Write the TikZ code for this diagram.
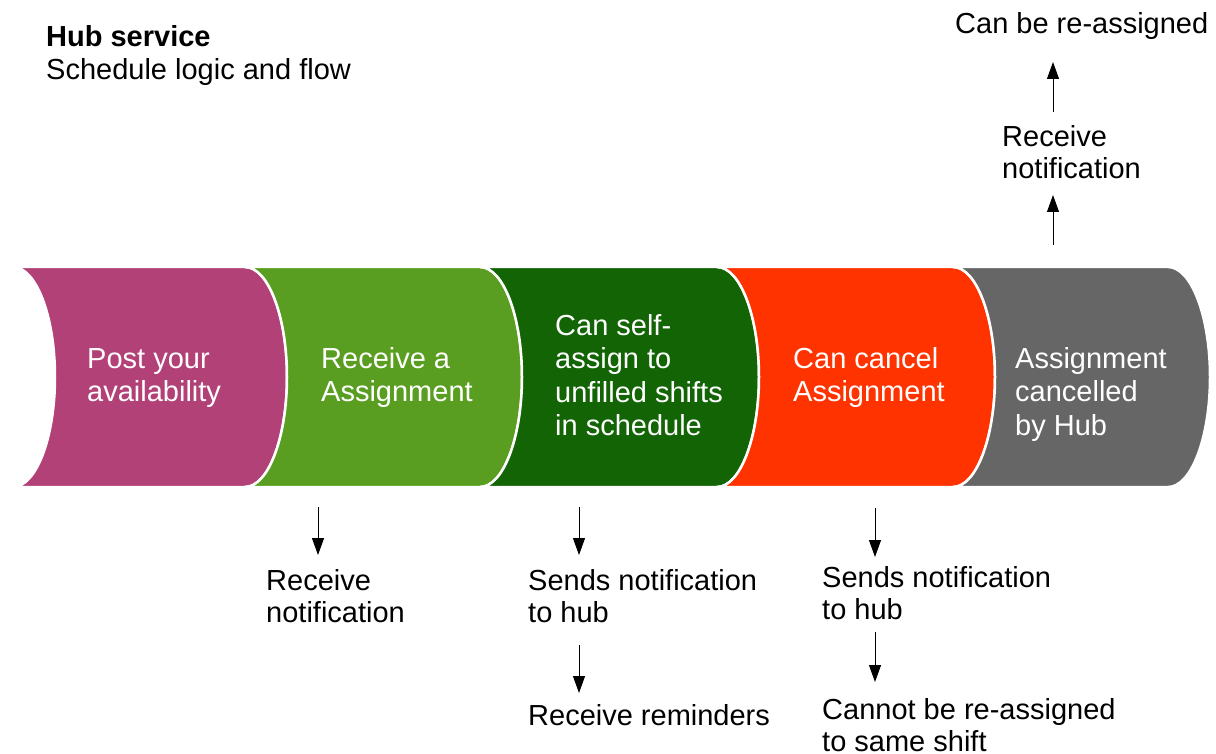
\documentclass[tikz,border=0pt]{standalone}
\usepackage{fontspec}
\setmainfont{Liberation Sans}
\usetikzlibrary{arrows.meta}
\definecolor{cmag}{RGB}{178,65,120}
\definecolor{cgreen}{RGB}{89,158,32}
\definecolor{cdgreen}{RGB}{18,100,5}
\definecolor{cred}{RGB}{255,51,0}
\definecolor{cgrey}{RGB}{102,102,102}
\tikzset{
  seg/.style={draw=white, line width=2.5pt},
  intext/.style={anchor=base west, inner sep=0pt, text=white, font=\fontsize{29}{33.5}\selectfont, align=left},
  lbl/.style={anchor=base west, inner sep=0pt, text=black, font=\fontsize{29}{32}\selectfont, align=left},
  flow/.style={-{Triangle[length=17pt,width=12pt]}, line width=1pt, black}
}
\newcommand{\segpath}[3]{% x0, x1, color
  \path[seg, fill=#3] (#1,267) -- (#2,267)
    arc[start angle=-90, end angle=90, x radius=42, y radius=110]
    -- (#1,487)
    arc[start angle=90, end angle=-90, x radius=42, y radius=110] -- cycle;}
\begin{document}
\begin{tikzpicture}[x=1pt,y=-1pt]
\useasboundingbox (0,0) rectangle (1216,754);
% segments
\segpath{13}{245}{cmag}
\segpath{245}{480}{cgreen}
\segpath{480}{717}{cdgreen}
\segpath{717}{953}{cred}
\segpath{953}{1168}{cgrey}
% segment texts (anchor is baseline of last line)
\node[intext] (s1) at (87,401.5) {Post your\\availability};
\node[intext] (s2) at (321,401.5) {Receive a\\Assignment};
\node[intext] (s3) at (555,435.5) {Can self-\\assign to\\unfilled shifts\\in schedule};
\node[intext] (s4) at (793,401.5) {Can cancel\\Assignment};
\node[intext] (s5) at (1015,435) {Assignment\\cancelled\\by Hub};
% title
\node[lbl, font=\fontsize{29}{33}\selectfont\bfseries] (t1) at (46,47) {Hub service};
\node[lbl] (t2) at (46,80) {Schedule logic and flow};
% top right
\node[lbl] (r2) at (955,34) {Can be re-assigned};
\node[lbl] (r1) at (1002,179) {Receive\\notification};
\coordinate (u1s) at (1053,245);
\coordinate (u1e) at (1053,195);
\coordinate (u2s) at (1053,112);
\coordinate (u2e) at (1053,62);
\draw[flow] (u1s) -- (u1e);
\draw[flow] (u2s) -- (u2e);
% below 2
\node[lbl] (b1) at (266,622) {Receive\\notification};
\coordinate (d1s) at (318,507);
\coordinate (d1e) at (318,555);
\draw[flow] (d1s) -- (d1e);
% below 3
\node[lbl] (b2) at (528,622) {Sends notification\\to hub};
\node[lbl] (b3) at (528,725) {Receive reminders};
\coordinate (d2s) at (579,507);
\coordinate (d2e) at (579,555);
\coordinate (d3s) at (579,645);
\coordinate (d3e) at (579,693);
\draw[flow] (d2s) -- (d2e);
\draw[flow] (d3s) -- (d3e);
% below 4
\node[lbl] (b4) at (822,619) {Sends notification\\to hub};
\node[lbl] (b5) at (822,751) {Cannot be re-assigned\\to same shift};
\coordinate (d4s) at (875,508);
\coordinate (d4e) at (875,557);
\coordinate (d5s) at (875,632);
\coordinate (d5e) at (875,682);
\draw[flow] (d4s) -- (d4e);
\draw[flow] (d5s) -- (d5e);
\end{tikzpicture}
\end{document}
